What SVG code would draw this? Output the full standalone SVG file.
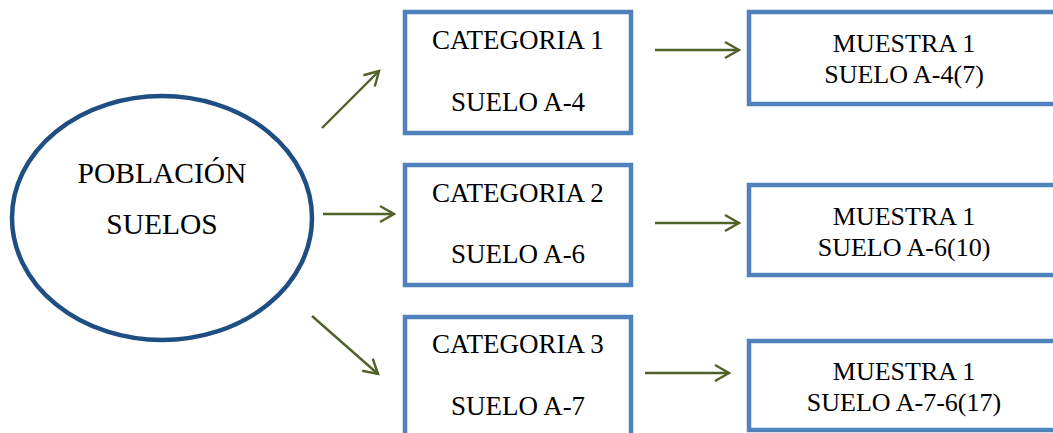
<svg xmlns="http://www.w3.org/2000/svg" width="1053" height="433" viewBox="0 0 1053 433">
<defs>
<style>
.box{fill:#fff;stroke:#4F81BD;stroke-width:4.5}
.ell{fill:#fff;stroke:#1F4E83;stroke-width:4.5}
.t{font-family:"Liberation Serif","Times New Roman",serif;fill:#000;text-anchor:middle}
.tb{font-size:27px}
.tm{font-size:26px}
.te{font-size:29.5px}
.c{stroke:#4F6228;stroke-width:2.4;fill:none}
</style>
<marker id="ah" viewBox="0 0 20 20" refX="17" refY="10" markerWidth="20" markerHeight="20" markerUnits="userSpaceOnUse" orient="auto">
<path d="M3,2 L17,10 L3,18" fill="none" stroke="#4F6228" stroke-width="2.4"/>
</marker>
</defs>
<rect width="1053" height="433" fill="#fff"/>
<g id="poblacion">
<ellipse class="ell" cx="162" cy="218" rx="150" ry="122"/>
<text class="t te" x="162" y="183">POBLACIÓN</text>
<text class="t te" x="162" y="234">SUELOS</text>
</g>
<g id="categoria1">
<rect class="box" x="405" y="12" width="226" height="121"/>
<text class="t tb" x="518" y="49">CATEGORIA 1</text>
<text class="t tb" x="518" y="111">SUELO A-4</text>
</g>
<g id="categoria2">
<rect class="box" x="405" y="165" width="226" height="120"/>
<text class="t tb" x="518" y="202">CATEGORIA 2</text>
<text class="t tb" x="518" y="263">SUELO A-6</text>
</g>
<g id="categoria3">
<rect class="box" x="405" y="317" width="226" height="130"/>
<text class="t tb" x="518" y="353">CATEGORIA 3</text>
<text class="t tb" x="518" y="415">SUELO A-7</text>
</g>
<g id="muestra1">
<rect class="box" x="749" y="12" width="320" height="92"/>
<text class="t tm" x="904" y="52">MUESTRA 1</text>
<text class="t tm" x="904" y="83">SUELO A-4(7)</text>
</g>
<g id="muestra2">
<rect class="box" x="749" y="185" width="320" height="90"/>
<text class="t tm" x="904" y="225">MUESTRA 1</text>
<text class="t tm" x="904" y="256">SUELO A-6(10)</text>
</g>
<g id="muestra3">
<rect class="box" x="749" y="341" width="320" height="89"/>
<text class="t tm" x="904" y="380">MUESTRA 1</text>
<text class="t tm" x="904" y="411">SUELO A-7-6(17)</text>
</g>
<g id="connectors">
<line class="c" x1="322" y1="128" x2="379" y2="71" marker-end="url(#ah)"/>
<line class="c" x1="323" y1="214" x2="394" y2="214" marker-end="url(#ah)"/>
<line class="c" x1="312" y1="316" x2="378" y2="374" marker-end="url(#ah)"/>
<line class="c" x1="655" y1="50" x2="739" y2="50" marker-end="url(#ah)"/>
<line class="c" x1="655" y1="223" x2="739" y2="223" marker-end="url(#ah)"/>
<line class="c" x1="645" y1="373" x2="729" y2="373" marker-end="url(#ah)"/>
</g>
</svg>
